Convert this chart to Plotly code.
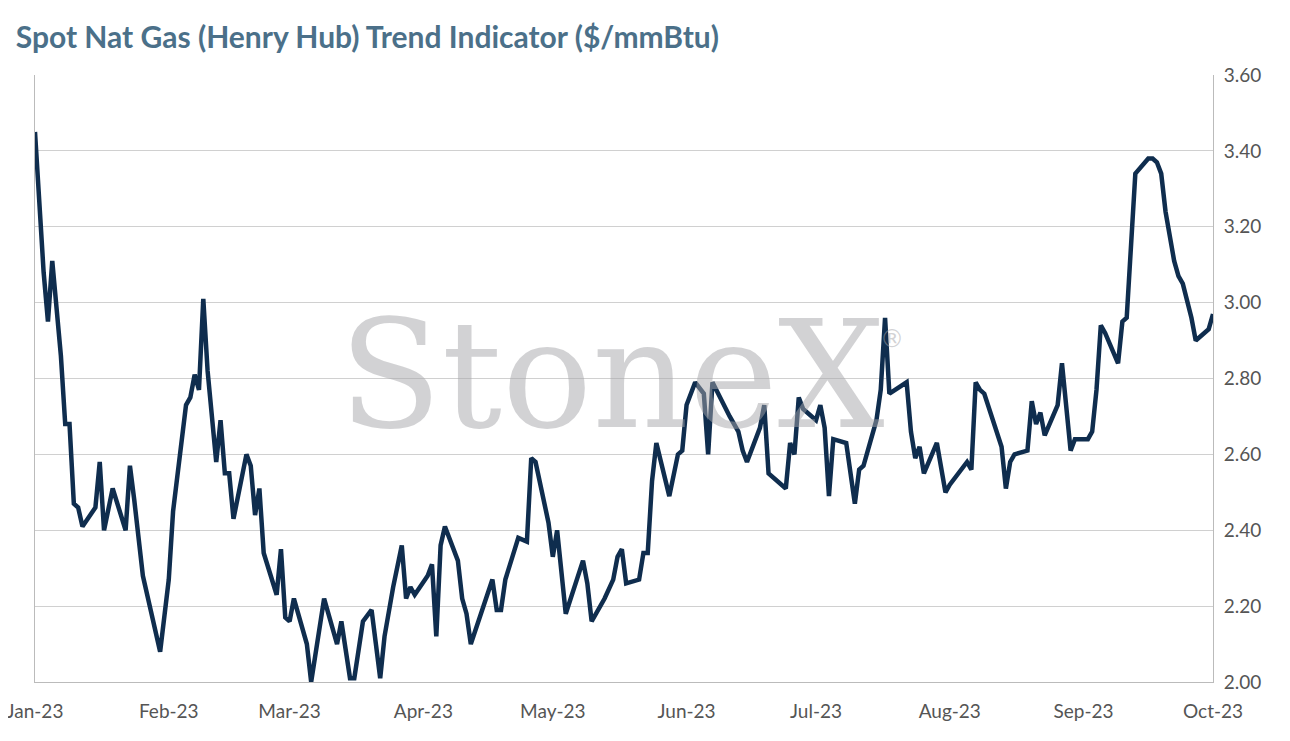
import pandas as pd
import plotly.graph_objects as go

day_offsets = [0,2,3,4,6,7,8,9,10,11,14,15,16,18,21,22,23,24,25,27,29,31,32,35,36,37,38,39,40,42,43,44,45,46,48,49,50,51,52,53,56,57,58,59,60,63,64,67,70,71,73,74,76,78,79,80,81,83,85,86,87,88,91,92,93,94,95,98,99,100,101,105,106,107,108,109,112,114,115,116,119,120,121,123,127,128,129,132,134,135,136,137,140,141,142,143,144,147,149,150,151,153,155,156,157,161,163,164,165,168,169,170,172,174,175,176,177,178,181,182,183,184,185,188,190,191,192,195,196,197,198,202,203,204,205,206,209,211,212,214,216,217,218,219,220,224,225,226,227,230,231,232,233,234,237,238,240,241,244,245,246,247,248,251,252,253,254,255,258,259,260,261,262,264,265,266,268,269,272,273]
prices = [3.45,3.08,2.95,3.11,2.86,2.68,2.68,2.47,2.46,2.41,2.46,2.58,2.40,2.51,2.40,2.57,2.48,2.39,2.28,2.18,2.08,2.27,2.45,2.73,2.75,2.81,2.77,3.01,2.82,2.58,2.69,2.55,2.55,2.43,2.54,2.60,2.57,2.44,2.51,2.34,2.23,2.35,2.17,2.16,2.22,2.10,2.00,2.22,2.10,2.16,2.01,2.01,2.16,2.19,2.10,2.01,2.12,2.25,2.36,2.22,2.25,2.23,2.28,2.31,2.12,2.36,2.41,2.32,2.22,2.18,2.10,2.23,2.27,2.19,2.19,2.27,2.38,2.37,2.59,2.58,2.42,2.33,2.40,2.18,2.32,2.26,2.16,2.22,2.27,2.33,2.35,2.26,2.27,2.34,2.34,2.53,2.63,2.49,2.60,2.61,2.73,2.79,2.76,2.60,2.79,2.70,2.66,2.61,2.58,2.67,2.73,2.55,2.53,2.51,2.63,2.60,2.75,2.72,2.69,2.73,2.67,2.49,2.64,2.63,2.47,2.56,2.57,2.69,2.77,2.96,2.76,2.79,2.66,2.59,2.62,2.55,2.63,2.50,2.52,2.55,2.58,2.56,2.79,2.77,2.76,2.62,2.51,2.58,2.60,2.61,2.74,2.68,2.71,2.65,2.73,2.84,2.61,2.64,2.64,2.66,2.77,2.94,2.92,2.84,2.95,2.96,3.16,3.34,3.38,3.38,3.37,3.34,3.24,3.11,3.07,3.05,2.96,2.90,2.93,2.97]
dates = pd.Timestamp("2023-01-01") + pd.to_timedelta(day_offsets, unit="D")
tick_dates = pd.date_range("2023-01-01", "2023-10-01", freq="MS")
tick_labels = [d.strftime("%b-%y") for d in tick_dates]

wm_color = "rgba(165,165,170,0.5)"
fig = go.Figure(go.Scatter(x=dates, y=prices, mode="lines",
                           line=dict(color="#0f2d4e", width=4.5)))
fig.add_annotation(text="StoneX", x=0.49, y=0.505, xref="paper", yref="paper",
                   showarrow=False, font=dict(family="DejaVu Serif", size=150, color=wm_color))
fig.add_annotation(text="®", x=0.739, y=0.565, xref="paper", yref="paper",
                   showarrow=False, font=dict(family="DejaVu Sans", size=24, color=wm_color))
fig.update_layout(
    width=1290, height=741, plot_bgcolor="white", paper_bgcolor="white",
    margin=dict(l=27, r=85, t=67, b=67, autoexpand=False),
    title=dict(text="<b>Spot Nat Gas (Henry Hub) Trend Indicator ($/mmBtu)</b>", x=0.006, y=0.975,
               font=dict(family="Lato", size=30, color="#4b7089")),
    font=dict(family="Lato", size=19, color="#555"),
    showlegend=False,
    xaxis=dict(range=[tick_dates[0], tick_dates[-1]], tickvals=tick_dates, ticktext=tick_labels,
               ticklabeloverflow="allow", ticklabelstandoff=12,
               showgrid=False, showline=True, linecolor="#bbb", ticks="", ticklen=0, automargin=False),
    yaxis=dict(range=[2.0, 3.6], dtick=0.2, tickformat=".2f", side="right", automargin=False,
               ticklabelstandoff=6, ticklabeloverflow="allow",
               gridcolor="#d0d0d0", showline=True, linecolor="#bbb", mirror=True, zeroline=False),
)
fig.write_html("out.html")
